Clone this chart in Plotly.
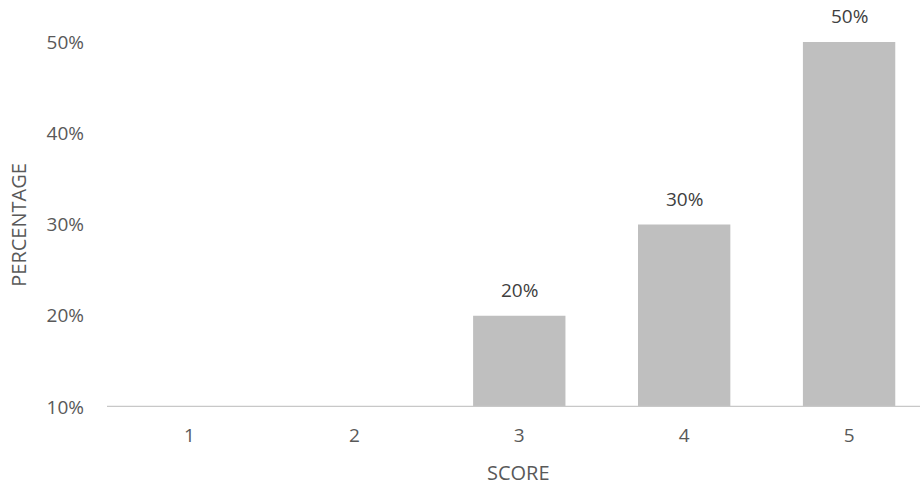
import plotly.graph_objects as go

scores = ["1", "2", "3", "4", "5"]
percent = [None, None, 0.20, 0.30, 0.50]
y_ticks = [0.1, 0.2, 0.3, 0.4, 0.5]
y_tick_labels = ["10%", "20%", "30%", "40%", "50%"]

FONT = "Open Sans"
FS = 19
FT = 20
fig = go.Figure()
fig.add_trace(go.Bar(
    x=scores, y=[None if v is None else v - 0.1 for v in percent], base=0.1,
    marker=dict(color="#bfbfbf", line=dict(width=0)),
    width=0.56, hoverinfo="skip",
))
for i, v in enumerate(percent):
    if v is not None:
        fig.add_annotation(x=i, y=v, text=f"{round(v*100)}%", showarrow=False,
                           yanchor="bottom", yshift=11,
                           font=dict(family=FONT, size=FS, color="#404040"))

fig.add_annotation(xref="paper", yref="paper", x=(518 - 106.5) / 813.5, y=(406.7 - 472) / 406.7,
                   text="SCORE", showarrow=False, xanchor="center", yanchor="middle", borderpad=0,
                   font=dict(family=FONT, size=FT, color="#595959"))
fig.add_annotation(xref="paper", yref="paper", x=(18 - 106.5) / 813.5, y=(406.7 - 225) / 406.7,
                   text="PERCENTAGE", showarrow=False, textangle=-90, xanchor="center", yanchor="middle",
                   font=dict(family=FONT, size=FT, color="#595959"))

fig.update_layout(
    width=920, height=486,
    margin=dict(l=107, r=0, t=0, b=79),
    paper_bgcolor="white", plot_bgcolor="white",
    showlegend=False,
    font=dict(family=FONT, size=FS, color="#595959"),
    xaxis=dict(type="category", range=[-0.5, 4.43], showgrid=False, ticks="",
               showline=False, zeroline=False, ticklabelstandoff=15,
               tickfont=dict(family=FONT, size=FS, color="#595959")),
    yaxis=dict(range=[0.1, 0.1 + 0.4 * 406.7 / (406.7 - 42)], tickvals=y_ticks, ticktext=y_tick_labels,
               showgrid=False, zeroline=False, showline=False, ticks="", ticklabelstandoff=22,
               tickfont=dict(family=FONT, size=FS, color="#595959")),
    shapes=[dict(type="line", xref="paper", yref="y", x0=0, x1=1, y0=0.1, y1=0.1,
                 line=dict(color="#c8c8c8", width=2.5))],
)
fig.write_html("out.html")
